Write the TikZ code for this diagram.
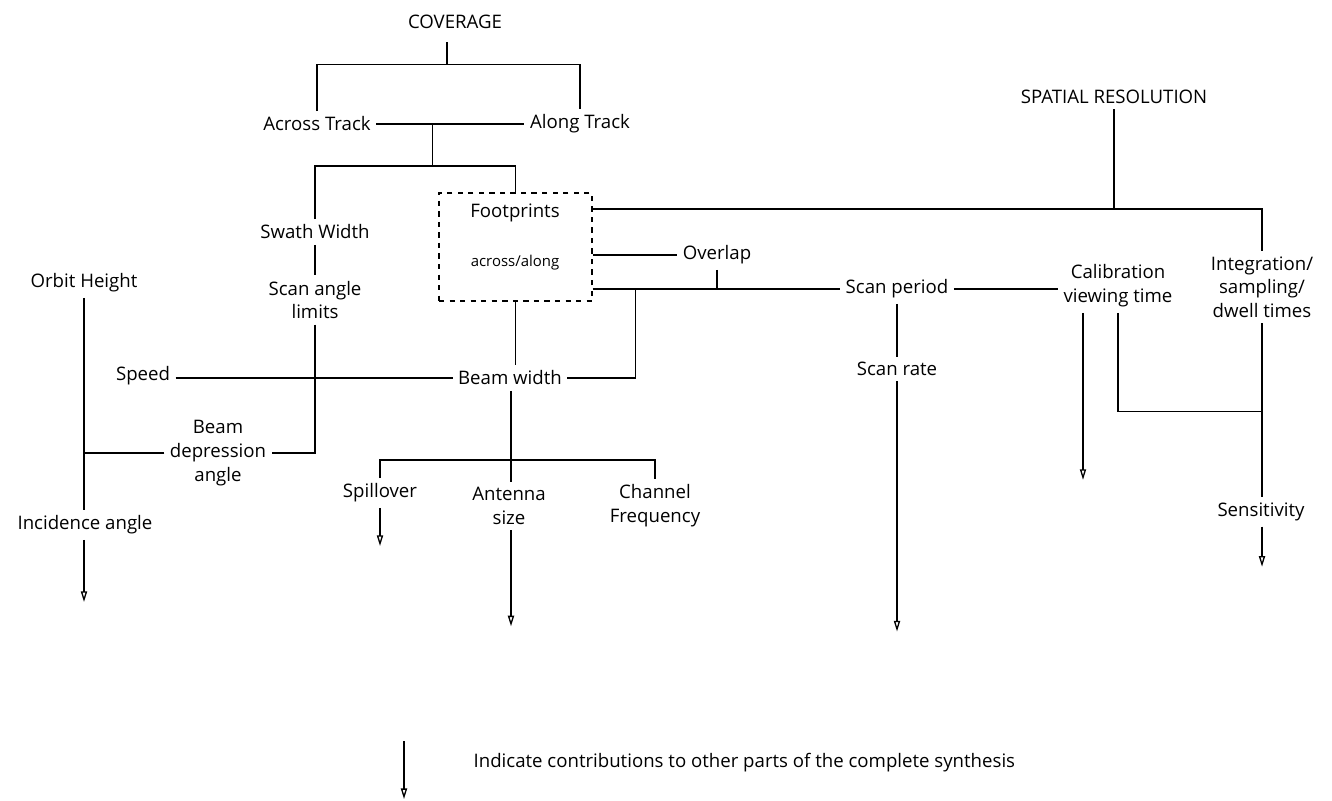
\documentclass[tikz,border=0pt]{standalone}
\usepackage{fontspec}
\setmainfont{Open Sans}
\usetikzlibrary{positioning, arrows.meta, calc}

\tikzset{
  term/.style={align=center, inner sep=3pt, font=\fontsize{10.6}{13.5}\selectfont},
  wire/.style={line width=0.75pt},
  contrib/.style={wire, -{Triangle[open, length=6pt, width=3.5pt]}},
}

\begin{document}
\begin{tikzpicture}[x=0.02cm, y=-0.02cm]
  \useasboundingbox (0,0) rectangle (1332,801);

  % coverage branch
  \node[term] (cov) at (455,22) {COVERAGE};
  \node[term] (across) at (317,124) {Across Track};
  \node[term] (along) at (580,124) {Along Track};
  \node[term] (swath) at (315,232) {Swath Width};
  \node[term] (scan) at (315,300) {Scan angle\\limits};
  \node[draw, dashed, wire, minimum width=3.06cm, minimum height=2.16cm] (foot) at (515.5,247) {};
  \node[term] (fptxt) at (515,213) {Footprints};
  \node[term, font=\fontsize{8.5}{10}\selectfont] (fpdir) at (515,263) {across/along};
  \node[term] (overlap) at (717,255) {Overlap};
  \node[term] (orbit) at (84,283) {Orbit Height};
  \node[term] (speed) at (143,376) {Speed};
  \node[term] (beam) at (510,378) {Beam width};
  \node[term] (bda) at (218,453) {Beam\\depression\\angle};
  \node[term] (incid) at (85,525) {Incidence angle};
  \node[term] (spill) at (380,493) {Spillover};
  \node[term] (ant) at (509,506) {Antenna\\size};
  \node[term] (chan) at (655,506) {Channel\\Frequency};

  % spatial resolution branch
  \node[term] (sres) at (1114,97) {SPATIAL RESOLUTION};
  \node[term] (scanp) at (897,289) {Scan period};
  \node[term] (calib) at (1118,286) {Calibration\\viewing time};
  \node[term] (integ) at (1262,287) {Integration/\\sampling/\\dwell times};
  \node[term] (rate) at (897,369) {Scan rate};
  \node[term] (sens) at (1261,512) {Sensitivity};

  % legend
  \coordinate (lgtop) at (404,741);
  \node[term, anchor=west] (legend) at (468,763) {Indicate contributions to other parts of the complete synthesis};

  % junction points
  \coordinate (covs) at ($(cov.south)+(-8,8)$);
  \coordinate (covj) at ($(cov.south)+(-8,30)$);
  \coordinate (fpa) at ($(foot.east)+(0,-38)$);
  \coordinate (fpb) at ($(foot.east)+(0,8)$);
  \coordinate (fpc) at ($(foot.east)+(0,42)$);
  \coordinate (bwj) at ($(fpc)+(43,0)$);
  \coordinate (bwb) at (511,460);
  \coordinate (calj) at ($(integ.south)+(0,88)$);

  % connectors
  \draw[wire] (covs) -- (covj);
  \draw[wire] (across.north) |- (covj) -| (along.north);
  \draw[wire] (across.east) -- coordinate[pos=0.38] (trk) (across.east -| along.west);
  \draw[wire] (trk) -- ++(0,42) coordinate (trkj);
  \draw[wire] (swath.north) |- (trkj) -| (foot.north);
  \draw[wire] (swath.south) -- (scan.north);
  \draw[wire] (scan.south) |- (bda.east);
  \draw[wire] (speed.east |- beam.west) -- (beam.west);
  \draw[wire] (foot.south) -- (foot.south |- beam.north);
  \draw[wire] (fpb) -- (fpb -| overlap.west);
  \draw[wire] (fpc) -- (fpc -| scanp.west);
  \draw[wire] (overlap.south) -- (overlap.south |- fpc);
  \draw[wire] (beam.east) -| (bwj);
  \draw[wire] (fpa) -| (integ.north);
  \draw[wire] (sres.south) -- (sres.south |- fpa);
  \draw[wire] (bwb |- beam.south) -- (bwb |- ant.north);
  \draw[wire] (spill.north) |- (bwb) -| (chan.north);
  \draw[wire] (orbit.south) -- (orbit.south |- incid.north);
  \draw[wire] (bda.west) -- (bda.west -| orbit.south);
  \draw[wire] (scanp.east) -- (scanp.east -| calib.west);
  \draw[wire] (scanp.south) -- (rate.north);
  \draw[wire] (calib.south) |- (calj);
  \draw[wire] (integ.south) -- (integ.south |- sens.north);

  % contributions
  \draw[contrib] (orbit.south |- incid.south) -- ++(0,62);
  \draw[contrib] (spill.south) -- ++(0,38);
  \draw[contrib] (bwb |- ant.south) -- ++(0,96);
  \draw[contrib] (rate.south) -- ++(0,250);
  \draw[contrib] ($(calib.south)+(-35,0)$) -- ++(0,167);
  \draw[contrib] (integ.south |- sens.south) -- ++(0,40);
  \draw[contrib] (lgtop) -- ++(0,58);
\end{tikzpicture}
\end{document}
